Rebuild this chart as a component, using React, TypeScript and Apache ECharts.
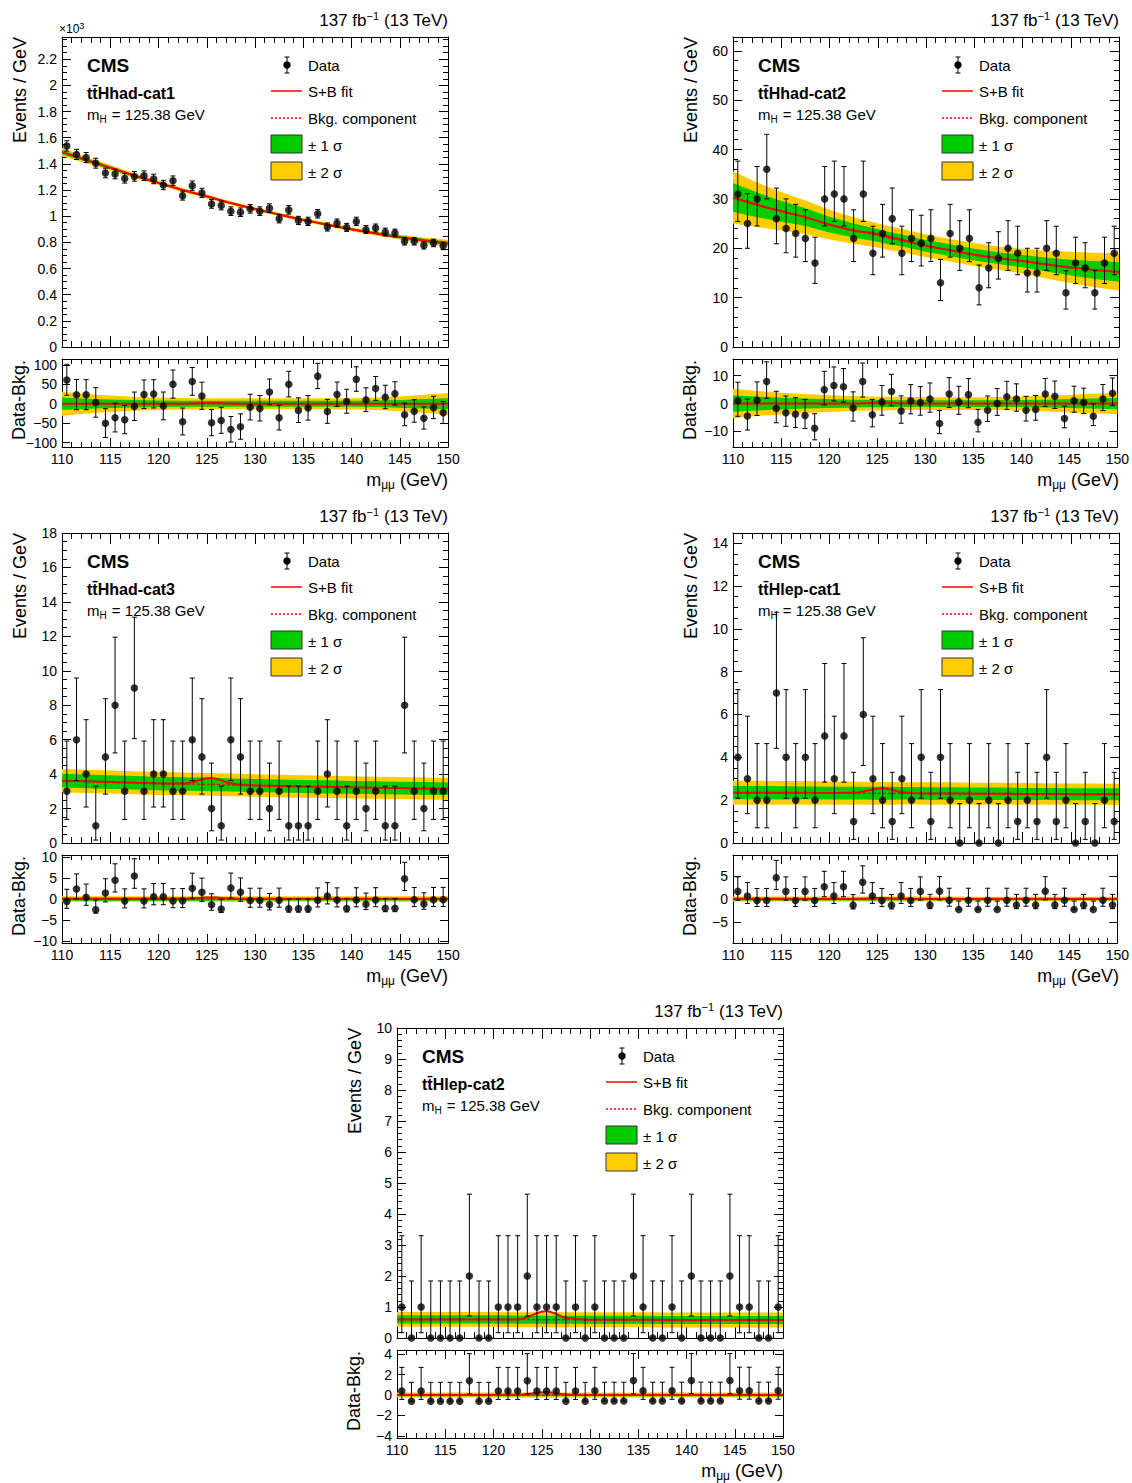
import React, { useEffect, useRef } from "react";
import * as echarts from "echarts";

// ---------- shared axes / bins ----------
const BIN_X = [110.5, 111.5, 112.5, 113.5, 114.5, 115.5, 116.5, 117.5, 118.5, 119.5, 120.5, 121.5, 122.5, 123.5, 124.5, 125.5, 126.5, 127.5, 128.5, 129.5, 130.5, 131.5, 132.5, 133.5, 134.5, 135.5, 136.5, 137.5, 138.5, 139.5, 140.5, 141.5, 142.5, 143.5, 144.5, 145.5, 146.5, 147.5, 148.5, 149.5];
const FIT_X = [110, 112.5, 115, 117.5, 120, 122.5, 123.5, 124.5, 125.4, 126.3, 127.5, 130, 132.5, 135, 137.5, 140, 142.5, 145, 147.5, 150];

// Garwood (68%) Poisson intervals for small counts
const POISSON_LO = [0, 0.17, 0.71, 1.37, 2.09, 2.84, 3.62, 4.42, 5.23, 6.06];
const POISSON_HI = [1.84, 3.3, 4.64, 5.92, 7.16, 8.38, 9.58, 10.77, 11.95, 13.11];

// ---------- ttHhad-cat1 (main in units of 10^3 events/GeV) ----------
const cat1Data = [1.537, 1.472, 1.448, 1.405, 1.33, 1.322, 1.289, 1.304, 1.309, 1.284, 1.238, 1.271, 1.157, 1.233, 1.178, 1.094, 1.081, 1.038, 1.03, 1.056, 1.038, 1.061, 0.98, 1.048, 0.967, 0.96, 1.018, 0.917, 0.947, 0.914, 0.96, 0.897, 0.909, 0.878, 0.871, 0.808, 0.808, 0.777, 0.795, 0.772];
const cat1Resid = [61, 23, 23, 3, -50, -36, -41, -7, 24, 25, -6, 50, -46, 57, 20, -49, -43, -66, -59, -9, -12, 30, -36, 50, -17, -11, 71, -20, 24, 6, 63, 10, 39, 17, 26, -28, -19, -37, -10, -23];
const cat1Bkg = [1.49, 1.43, 1.37, 1.31, 1.255, 1.2, 1.18, 1.16, 1.142, 1.124, 1.1, 1.055, 1.013, 0.972, 0.935, 0.9, 0.868, 0.84, 0.815, 0.792];
const cat1Sig = [0, 0, 0, 0, 0, 0.1, 0.8, 2.0, 2.6, 2.0, 0.6, 0, 0, 0, 0, 0, 0, 0, 0, 0];
const cat1Band1 = [16, 13, 11, 9.5, 8.5, 8, 7.8, 7.6, 7.5, 7.5, 7.5, 7.5, 7.5, 7.5, 7.5, 7.8, 8.5, 10, 12, 14];
const cat1Band2 = [31, 25, 21, 18, 16, 15, 14.5, 14, 14, 14, 14, 14, 14, 14, 14, 14.5, 16, 19, 23, 28];

// ---------- ttHhad-cat2 ----------
const cat2Data = [31, 25, 30, 36, 26, 24, 23, 22, 17, 30, 31, 30, 22, 31, 19, 23, 26, 19, 22, 21, 22, 13, 23, 20, 22, 12, 16, 18, 20, 19, 15, 15, 20, 19, 11, 17, 16, 11, 17, 19];
const cat2Resid = [1.0, -4.5, 1.2, 7.9, -1.8, -3.3, -3.8, -4.3, -8.9, 5.0, 6.5, 6.0, -1.6, 7.9, -4.0, 0.6, 4.3, -2.7, 1.0, 0.4, 1.6, -7.2, 3.4, 0.6, 3.2, -6.7, -2.4, 0.0, 2.4, 1.6, -2.4, -2.1, 3.4, 2.6, -5.4, 1.0, 0.4, -4.6, 1.6, 3.7];
const cat2Bkg = [30.3, 28.8, 27.5, 26.3, 24.8, 23.6, 23.2, 22.8, 22.4, 22.0, 21.6, 20.5, 19.6, 18.7, 18.0, 17.4, 16.7, 16.1, 15.6, 15.2];
const cat2Sig = [0, 0, 0, 0, 0, 0.02, 0.1, 0.27, 0.36, 0.27, 0.08, 0, 0, 0, 0, 0, 0, 0, 0, 0];
const cat2Band1 = [2.9, 2.5, 2.1, 1.8, 1.6, 1.4, 1.35, 1.3, 1.3, 1.25, 1.2, 1.2, 1.2, 1.2, 1.2, 1.25, 1.4, 1.6, 1.8, 2.0];
const cat2Band2 = [5.3, 4.5, 3.9, 3.4, 3.0, 2.7, 2.6, 2.5, 2.45, 2.4, 2.35, 2.3, 2.3, 2.3, 2.35, 2.5, 2.8, 3.2, 3.5, 3.8];

// ---------- ttHhad-cat3 ----------
const cat3Data = [3, 6, 4, 1, 5, 8, 3, 9, 3, 4, 4, 3, 3, 6, 5, 2, 1, 6, 5, 3, 3, 2, 3, 1, 1, 1, 3, 4, 3, 1, 3, 2, 3, 1, 1, 8, 3, 2, 3, 3];
const cat3Resid = [-0.6, 2.4, 0.4, -2.55, 1.45, 4.45, -0.5, 5.5, -0.5, 0.53, 0.54, -0.45, -0.43, 2.58, 1.6, -1.4, -2.4, 2.6, 1.64, -0.35, -0.34, -1.33, -0.32, -2.3, -2.3, -2.3, -0.28, 0.73, -0.26, -2.25, -0.24, -1.23, -0.22, -2.21, -2.2, 4.81, -0.18, -1.17, -0.16, -0.15];
const cat3Bkg = [3.62, 3.58, 3.54, 3.5, 3.46, 3.43, 3.42, 3.41, 3.4, 3.39, 3.37, 3.34, 3.31, 3.28, 3.26, 3.23, 3.21, 3.19, 3.17, 3.15];
const cat3Sig = [0, 0, 0, 0, 0, 0.02, 0.11, 0.29, 0.38, 0.29, 0.08, 0, 0, 0, 0, 0, 0, 0, 0, 0];
const cat3Band1 = [0.4, 0.4, 0.4, 0.39, 0.39, 0.39, 0.39, 0.39, 0.39, 0.38, 0.38, 0.38, 0.38, 0.38, 0.38, 0.37, 0.37, 0.37, 0.37, 0.37];
const cat3Band2 = [0.68, 0.68, 0.67, 0.67, 0.67, 0.66, 0.66, 0.66, 0.66, 0.66, 0.66, 0.65, 0.65, 0.65, 0.65, 0.65, 0.64, 0.64, 0.64, 0.64];

// ---------- ttHlep-cat1 ----------
const cat4Data = [4, 3, 2, 2, 7, 4, 2, 4, 2, 5, 3, 5, 1, 6, 3, 2, 1, 3, 2, 4, 1, 4, 2, 0, 2, 0, 2, 0, 2, 1, 2, 1, 4, 1, 2, 0, 1, 0, 2, 1];
const cat4Resid = [1.66, 0.66, -0.34, -0.34, 4.66, 1.66, -0.34, 1.66, -0.34, 2.66, 0.66, 2.66, -1.34, 3.66, 0.66, -0.34, -1.34, 0.66, -0.34, 1.66, -1.29, 1.71, -0.29, -2.29, -0.29, -2.29, -0.29, -2.29, -0.29, -1.29, -0.29, -1.29, 1.71, -1.29, -0.29, -2.29, -1.29, -2.29, -0.29, -1.29];
const cat4Bkg = [2.35, 2.35, 2.34, 2.34, 2.33, 2.33, 2.33, 2.32, 2.32, 2.32, 2.32, 2.31, 2.31, 2.3, 2.3, 2.29, 2.29, 2.28, 2.28, 2.27];
const cat4Sig = [0, 0, 0, 0, 0, 0.01, 0.07, 0.18, 0.23, 0.18, 0.05, 0, 0, 0, 0, 0, 0, 0, 0, 0];
const cat4Band1 = [0.31, 0.31, 0.31, 0.3, 0.3, 0.3, 0.3, 0.3, 0.3, 0.3, 0.29, 0.29, 0.29, 0.29, 0.29, 0.28, 0.28, 0.28, 0.28, 0.28];
const cat4Band2 = [0.56, 0.56, 0.55, 0.55, 0.54, 0.54, 0.53, 0.53, 0.53, 0.53, 0.52, 0.52, 0.52, 0.51, 0.51, 0.51, 0.5, 0.5, 0.5, 0.5];

// ---------- ttHlep-cat2 ----------
const cat5Data = [1, 0, 1, 0, 0, 0, 0, 2, 0, 0, 1, 1, 1, 2, 1, 1, 1, 0, 1, 0, 1, 0, 0, 0, 2, 1, 0, 0, 1, 0, 2, 0, 0, 0, 2, 1, 1, 0, 0, 1];
const cat5Resid = [0.4, -0.6, 0.4, -0.6, -0.6, -0.6, -0.6, 1.4, -0.6, -0.6, 0.4, 0.4, 0.4, 1.4, 0.4, 0.4, 0.4, -0.6, 0.4, -0.6, 0.41, -0.59, -0.59, -0.59, 1.41, 0.41, -0.59, -0.59, 0.41, -0.59, 1.42, -0.58, -0.58, -0.58, 1.42, 0.42, 0.42, -0.58, -0.58, 0.42];
const cat5Bkg = [0.6, 0.6, 0.6, 0.6, 0.6, 0.59, 0.59, 0.59, 0.59, 0.59, 0.59, 0.59, 0.59, 0.59, 0.58, 0.58, 0.58, 0.58, 0.58, 0.58];
const cat5Sig = [0, 0, 0, 0, 0, 0.01, 0.08, 0.21, 0.27, 0.21, 0.06, 0, 0, 0, 0, 0, 0, 0, 0, 0];
const cat5Band1 = [0.13, 0.13, 0.13, 0.13, 0.13, 0.13, 0.13, 0.13, 0.13, 0.13, 0.13, 0.13, 0.13, 0.13, 0.13, 0.13, 0.13, 0.13, 0.13, 0.13];
const cat5Band2 = [0.24, 0.24, 0.24, 0.24, 0.24, 0.24, 0.24, 0.24, 0.24, 0.24, 0.24, 0.24, 0.24, 0.24, 0.24, 0.24, 0.24, 0.24, 0.24, 0.24];

// ---------- tick labels ----------
const RATIO_TICKS_1 = [-100, -50, 0, 50, 100];
const RATIO_TICKS_2 = [-10, 0, 10];
const RATIO_TICKS_3 = [-10, -5, 0, 5, 10];
const RATIO_TICKS_4 = [-5, 0, 5];
const RATIO_TICKS_5 = [-4, -2, 0, 2, 4];

const PANELS = [
  { name: "tt\u0304Hhad-cat1", data: cat1Data, resid: cat1Resid, bkg: cat1Bkg, sig: cat1Sig, band1: cat1Band1, band2: cat1Band2, scale: 1000, yMax: 2.37, yInt: 0.2, yMinor: 4, rMin: -111, rMax: 115, rTicks: RATIO_TICKS_1, exp: true },
  { name: "tt\u0304Hhad-cat2", data: cat2Data, resid: cat2Resid, bkg: cat2Bkg, sig: cat2Sig, band1: cat2Band1, band2: cat2Band2, scale: 1, yMax: 62.8, yInt: 10, yMinor: 5, rMin: -15.6, rMax: 16, rTicks: RATIO_TICKS_2, exp: false },
  { name: "tt\u0304Hhad-cat3", data: cat3Data, resid: cat3Resid, bkg: cat3Bkg, sig: cat3Sig, band1: cat3Band1, band2: cat3Band2, scale: 1, yMax: 18, yInt: 2, yMinor: 4, rMin: -10.5, rMax: 10.5, rTicks: RATIO_TICKS_3, exp: false },
  { name: "tt\u0304Hlep-cat1", data: cat4Data, resid: cat4Resid, bkg: cat4Bkg, sig: cat4Sig, band1: cat4Band1, band2: cat4Band2, scale: 1, yMax: 14.47, yInt: 2, yMinor: 4, rMin: -9.6, rMax: 9.6, rTicks: RATIO_TICKS_4, exp: false },
  { name: "tt\u0304Hlep-cat2", data: cat5Data, resid: cat5Resid, bkg: cat5Bkg, sig: cat5Sig, band1: cat5Band1, band2: cat5Band2, scale: 1, yMax: 10, yInt: 1, yMinor: 5, rMin: -4.2, rMax: 4.4, rTicks: RATIO_TICKS_5, exp: false },
];

// ---------- layout (pixels) ----------
const LAYOUT = [
  { left: 62, top: 37 },
  { left: 733, top: 37 },
  { left: 62, top: 533 },
  { left: 733, top: 533 },
  { left: 397, top: 1028 },
];
const MAIN_W = 386;
const MAIN_H = 310;
const RATIO_OFF = 322;
const RATIO_H = 88;

const FONT = '"Liberation Sans", Arial, Helvetica, sans-serif';
const RED = "#ff0000";
const GREEN = "#00cc00";
const YELLOW = "#ffcc00";

const fmtNum = (v: number) => String(Math.round(v * 1000) / 1000).replace("-", "\u2212");

function poisson(n: number): [number, number] {
  const k = Math.round(n);
  if (Math.abs(n - k) < 1e-9 && k >= 0 && k < POISSON_LO.length) return [POISSON_LO[k], POISSON_HI[k]];
  return [n - Math.sqrt(n), n + 1 + Math.sqrt(n + 1)];
}

function bandSeries(xi: number, yi: number, center: number[], widths: number[], color: string, z: number) {
  return {
    type: "custom",
    xAxisIndex: xi,
    yAxisIndex: yi,
    z,
    silent: true,
    clip: true,
    data: [[FIT_X[0], center[0]]],
    encode: { x: 0, y: 1 },
    renderItem: (_p: any, api: any) => {
      const pts: number[][] = [];
      for (let i = 0; i < FIT_X.length; i++) pts.push(api.coord([FIT_X[i], center[i] + widths[i]]));
      for (let i = FIT_X.length - 1; i >= 0; i--) pts.push(api.coord([FIT_X[i], center[i] - widths[i]]));
      return { type: "polygon", shape: { points: pts }, style: { fill: color, stroke: null } };
    },
  };
}

function lineSeries(xi: number, yi: number, vals: number[], dashed: boolean, z: number) {
  return {
    type: "line",
    xAxisIndex: xi,
    yAxisIndex: yi,
    z,
    silent: true,
    showSymbol: false,
    symbol: "none",
    smooth: true,
    data: FIT_X.map((x, i) => [x, vals[i]]),
    lineStyle: dashed ? { color: RED, width: 1.3, type: [3, 2] } : { color: RED, width: 2 },
  };
}

function errSeries(xi: number, yi: number, items: number[][], z: number) {
  return {
    type: "custom",
    xAxisIndex: xi,
    yAxisIndex: yi,
    z,
    silent: true,
    clip: true,
    data: items,
    encode: { x: 0, y: [1, 2] },
    renderItem: (_p: any, api: any) => {
      const x = api.value(0);
      const a = api.coord([x, api.value(1)]);
      const b = api.coord([x, api.value(2)]);
      const c = 2.5;
      const st = { stroke: "#000", lineWidth: 1 };
      return {
        type: "group",
        children: [
          { type: "line", shape: { x1: a[0], y1: a[1], x2: b[0], y2: b[1] }, style: st },
          { type: "line", shape: { x1: a[0] - c, y1: a[1], x2: a[0] + c, y2: a[1] }, style: st },
          { type: "line", shape: { x1: b[0] - c, y1: b[1], x2: b[0] + c, y2: b[1] }, style: st },
        ],
      };
    },
  };
}

function pointSeries(xi: number, yi: number, items: number[][], z: number) {
  return {
    type: "scatter",
    xAxisIndex: xi,
    yAxisIndex: yi,
    z,
    silent: true,
    symbol: "circle",
    symbolSize: 7.5,
    itemStyle: { color: "#000" },
    data: items,
  };
}

const TICK_STYLE = { color: "#000", width: 1 };

function xAxisPair(gridIndex: number, showLabels: boolean, major: number, minor: number) {
  const common = {
    type: "value",
    gridIndex,
    min: 110,
    max: 150,
    interval: 5,
    axisLine: { show: true, onZero: false, lineStyle: TICK_STYLE },
    axisTick: { show: true, inside: true, length: major, lineStyle: TICK_STYLE },
    minorTick: { show: true, splitNumber: 5, length: minor, lineStyle: TICK_STYLE },
    splitLine: { show: false },
    minorSplitLine: { show: false },
    axisPointer: { show: false },
  };
  return [
    { ...common, position: "bottom", axisLabel: { show: showLabels, color: "#000", fontSize: 14, fontFamily: FONT, margin: 5, formatter: fmtNum } },
    { ...common, position: "top", axisLabel: { show: false } },
  ];
}

function mainYAxisPair(gridIndex: number, p: any) {
  const common = {
    type: "value",
    gridIndex,
    min: 0,
    max: p.yMax,
    interval: p.yInt,
    axisLine: { show: true, onZero: false, lineStyle: TICK_STYLE },
    axisTick: { show: true, inside: true, length: 9, lineStyle: TICK_STYLE },
    minorTick: { show: true, splitNumber: p.yMinor, length: 5, lineStyle: TICK_STYLE },
    splitLine: { show: false },
    minorSplitLine: { show: false },
    axisPointer: { show: false },
  };
  const fmt = (v: number) => {
    const k = v / p.yInt;
    if (Math.abs(k - Math.round(k)) > 1e-6) return "";
    return fmtNum(v);
  };
  return [
    { ...common, position: "left", axisLabel: { show: true, color: "#000", fontSize: 14, fontFamily: FONT, margin: 5, formatter: fmt } },
    { ...common, position: "right", axisLabel: { show: false } },
  ];
}

function ratioYAxisPair(gridIndex: number, p: any) {
  const common = {
    type: "value",
    gridIndex,
    min: p.rMin,
    max: p.rMax,
    axisLine: { show: true, onZero: false, lineStyle: TICK_STYLE },
    axisTick: { show: true, inside: true, length: 8, lineStyle: TICK_STYLE, customValues: p.rTicks },
    minorTick: { show: false },
    splitLine: { show: false },
    minorSplitLine: { show: false },
    axisPointer: { show: false },
  };
  return [
    { ...common, position: "left", axisLabel: { show: true, color: "#000", fontSize: 14, fontFamily: FONT, margin: 5, customValues: p.rTicks, formatter: fmtNum } },
    { ...common, position: "right", axisLabel: { show: false } },
  ];
}

const SUP = { fontSize: 11, lineHeight: 11, padding: [0, 0, 8, 0], fontFamily: FONT, fill: "#000" };
const SUB = { fontSize: 11, lineHeight: 11, padding: [7, 0, 0, 0], fontFamily: FONT, fill: "#000" };

function txt(x: number, y: number, text: string, extra: any) {
  return { type: "text", x, y, z: 100, silent: true, style: { text, fontFamily: FONT, fill: "#000", ...extra } };
}

function panelGraphics(p: any, lay: { left: number; top: number }) {
  const L = lay.left;
  const T = lay.top;
  const R = L + MAIN_W;
  const RT = T + RATIO_OFF;
  const RB = RT + RATIO_H;
  const g: any[] = [];
  // luminosity label
  g.push(txt(R, T - 17, "{a|137 fb}{s|\u22121}{a| (13 TeV)}", {
    align: "right", verticalAlign: "middle",
    rich: { a: { fontSize: 17, fontFamily: FONT, fill: "#000" }, s: SUP },
  }));
  if (p.exp) {
    g.push(txt(L - 3, T - 8, "{a|\u00d710}{s|3}", {
      align: "left", verticalAlign: "middle",
      rich: { a: { fontSize: 12, fontFamily: FONT, fill: "#000" }, s: { fontSize: 9, lineHeight: 9, padding: [0, 0, 6, 0], fontFamily: FONT, fill: "#000" } },
    }));
  }
  // axis titles
  g.push({ ...txt(L - 42, T, "Events / GeV", { fontSize: 18, align: "right", verticalAlign: "middle" }), rotation: Math.PI / 2 });
  g.push({ ...txt(L - 43, RT + 1, "Data-Bkg.", { fontSize: 18, align: "right", verticalAlign: "middle" }), rotation: Math.PI / 2 });
  g.push(txt(R, RB + 33, "{a|m}{b|\u03bc\u03bc}{a| (GeV)}", {
    align: "right", verticalAlign: "middle",
    rich: { a: { fontSize: 18, fontFamily: FONT, fill: "#000" }, b: { ...SUB, fontSize: 12, lineHeight: 12, padding: [9, 0, 0, 0] } },
  }));
  // CMS / category / mass
  g.push(txt(L + 25, T + 28, "CMS", { fontSize: 19, fontWeight: "bold", align: "left", verticalAlign: "middle" }));
  g.push(txt(L + 25, T + 56, p.name, { fontSize: 16, fontWeight: "bold", align: "left", verticalAlign: "middle" }));
  g.push(txt(L + 25, T + 77, "{a|m}{b|H}{a| = 125.38 GeV}", {
    align: "left", verticalAlign: "middle",
    rich: { a: { fontSize: 15, lineHeight: 15, fontFamily: FONT, fill: "#000" }, b: { fontSize: 10, lineHeight: 10, padding: [10, 1, 0, 0], fontFamily: FONT, fill: "#000" } },
  }));
  // legend
  const mx = L + 225;
  const tx = L + 246;
  const lx1 = L + 209;
  const lx2 = L + 240;
  const st = { stroke: "#000", lineWidth: 1 };
  g.push({ type: "line", z: 100, silent: true, shape: { x1: mx, y1: T + 20, x2: mx, y2: T + 36 }, style: st });
  g.push({ type: "line", z: 100, silent: true, shape: { x1: mx - 2.5, y1: T + 20, x2: mx + 2.5, y2: T + 20 }, style: st });
  g.push({ type: "line", z: 100, silent: true, shape: { x1: mx - 2.5, y1: T + 36, x2: mx + 2.5, y2: T + 36 }, style: st });
  g.push({ type: "circle", z: 100, silent: true, shape: { cx: mx, cy: T + 28, r: 3.7 }, style: { fill: "#000" } });
  g.push(txt(tx, T + 28, "Data", { fontSize: 15, align: "left", verticalAlign: "middle" }));
  g.push({ type: "line", z: 100, silent: true, shape: { x1: lx1, y1: T + 54, x2: lx2, y2: T + 54 }, style: { stroke: RED, lineWidth: 1.5 } });
  g.push(txt(tx, T + 54, "S+B fit", { fontSize: 15, align: "left", verticalAlign: "middle" }));
  g.push({ type: "line", z: 100, silent: true, shape: { x1: lx1, y1: T + 81, x2: lx2, y2: T + 81 }, style: { stroke: RED, lineWidth: 1.3, lineDash: [2, 2] } });
  g.push(txt(tx, T + 81, "Bkg. component", { fontSize: 15, align: "left", verticalAlign: "middle" }));
  g.push({ type: "rect", z: 100, silent: true, shape: { x: lx1, y: T + 98, width: 31, height: 18 }, style: { fill: GREEN, stroke: "#333", lineWidth: 1 } });
  g.push(txt(tx, T + 108, "\u00b1 1 \u03c3", { fontSize: 15, align: "left", verticalAlign: "middle" }));
  g.push({ type: "rect", z: 100, silent: true, shape: { x: lx1, y: T + 125, width: 31, height: 18 }, style: { fill: YELLOW, stroke: "#333", lineWidth: 1 } });
  g.push(txt(tx, T + 135, "\u00b1 2 \u03c3", { fontSize: 15, align: "left", verticalAlign: "middle" }));
  return g;
}

function buildOption() {
  const grid: any[] = [];
  const xAxis: any[] = [];
  const yAxis: any[] = [];
  const series: any[] = [];
  const graphic: any[] = [];

  PANELS.forEach((p, pi) => {
    const lay = LAYOUT[pi];
    const gMain = 2 * pi;
    const gRatio = 2 * pi + 1;
    grid.push({ left: lay.left, top: lay.top, width: MAIN_W, height: MAIN_H, containLabel: false });
    grid.push({ left: lay.left, top: lay.top + RATIO_OFF, width: MAIN_W, height: RATIO_H, containLabel: false });
    xAxis.push(...xAxisPair(gMain, false, 11, 6));
    xAxis.push(...xAxisPair(gRatio, true, 9, 5));
    yAxis.push(...mainYAxisPair(gMain, p));
    yAxis.push(...ratioYAxisPair(gRatio, p));

    const s = p.scale;
    const counts = p.data.map((v) => v * s);
    const errs = counts.map(poisson);

    // main panel
    const xm = 2 * gMain;
    const ym = 2 * gMain;
    const sbMain = p.bkg.map((b, i) => b + p.sig[i] / s);
    series.push(bandSeries(xm, ym, p.bkg, p.band2.map((w) => w / s), YELLOW, 1));
    series.push(bandSeries(xm, ym, p.bkg, p.band1.map((w) => w / s), GREEN, 2));
    series.push(lineSeries(xm, ym, p.bkg, true, 3));
    series.push(lineSeries(xm, ym, sbMain, false, 4));
    series.push(errSeries(xm, ym, BIN_X.map((x, i) => [x, errs[i][0] / s, errs[i][1] / s]), 5));
    series.push(pointSeries(xm, ym, BIN_X.map((x, i) => [x, p.data[i]]), 6));

    // ratio panel (data - bkg)
    const xr = 2 * gRatio;
    const yr = 2 * gRatio;
    const zero = FIT_X.map(() => 0);
    series.push(bandSeries(xr, yr, zero, p.band2, YELLOW, 1));
    series.push(bandSeries(xr, yr, zero, p.band1, GREEN, 2));
    series.push(lineSeries(xr, yr, zero, true, 3));
    series.push(lineSeries(xr, yr, p.sig, false, 4));
    series.push(errSeries(xr, yr, BIN_X.map((x, i) => [x, p.resid[i] - (counts[i] - errs[i][0]), p.resid[i] + (errs[i][1] - counts[i])]), 5));
    series.push(pointSeries(xr, yr, BIN_X.map((x, i) => [x, p.resid[i]]), 6));

    graphic.push(...panelGraphics(p, lay));
  });

  return {
    animation: false,
    backgroundColor: "#ffffff",
    textStyle: { fontFamily: FONT },
    grid,
    xAxis,
    yAxis,
    series,
    graphic,
  };
}

export default function App() {
  const ref = useRef<HTMLDivElement>(null);
  useEffect(() => {
    if (!ref.current) return;
    const chart = echarts.init(ref.current, null, { renderer: "svg" });
    chart.setOption(buildOption() as any);
    return () => chart.dispose();
  }, []);
  return (
    <div
      ref={ref}
      style={{ position: "absolute", left: 0, top: 0, width: 1132, height: 1483, background: "#fff" }}
    />
  );
}
